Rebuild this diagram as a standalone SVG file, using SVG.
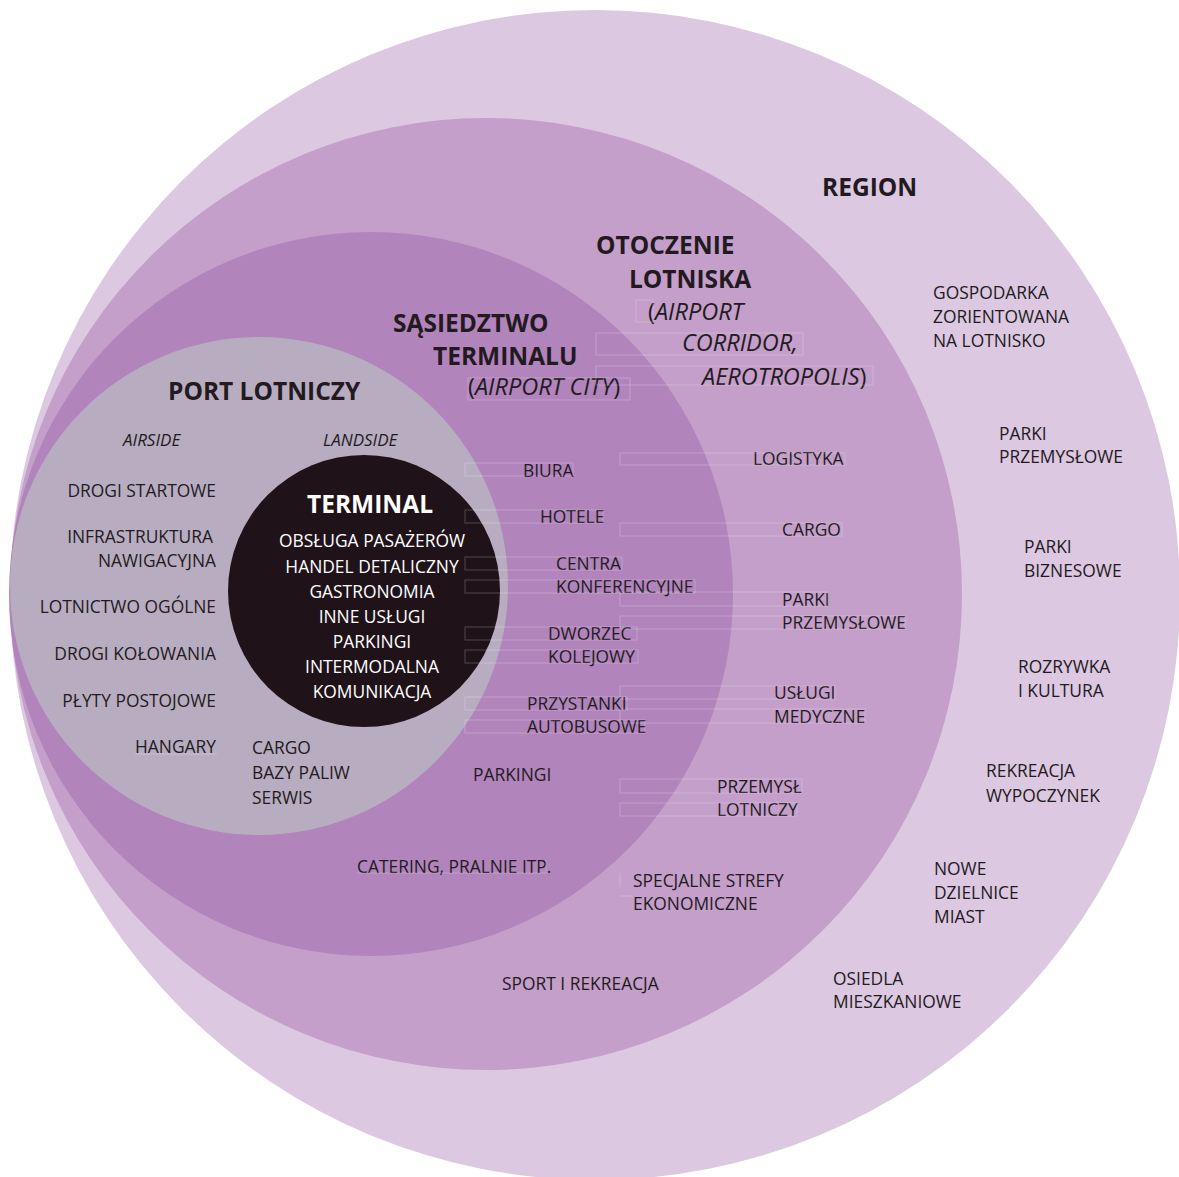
<svg xmlns="http://www.w3.org/2000/svg" width="1179" height="1177" viewBox="0 0 1179 1177">
<style>
.t{font-family:"Open Sans","Noto Sans","DejaVu Sans",sans-serif;font-size:17.4px;fill:#231a21}
.b{font-weight:700;font-size:24.5px}
.i{font-size:23.5px}
.it{font-style:italic}
.s{font-style:italic;font-size:17px}
.w{fill:#ffffff}
.m{text-anchor:middle}
.e{text-anchor:end}
.fr{fill:none;stroke:#ffffff;stroke-opacity:0.22;stroke-width:1}
</style>
<rect width="1179" height="1177" fill="#ffffff"/>
<g id="region">
<circle cx="595" cy="595" r="585" fill="#dcc8e1"/>
<text class="t b" x="822" y="196">REGION</text>
<text class="t" x="933" y="299">GOSPODARKA</text>
<text class="t" x="933" y="323">ZORIENTOWANA</text>
<text class="t" x="933" y="347">NA LOTNISKO</text>
<text class="t" x="999" y="440">PARKI</text>
<text class="t" x="999" y="463">PRZEMYSŁOWE</text>
<text class="t" x="1024" y="553">PARKI</text>
<text class="t" x="1024" y="577">BIZNESOWE</text>
<text class="t" x="1018" y="673">ROZRYWKA</text>
<text class="t" x="1018" y="697">I KULTURA</text>
<text class="t" x="986" y="777">REKREACJA</text>
<text class="t" x="986" y="802">WYPOCZYNEK</text>
<text class="t" x="934" y="875">NOWE</text>
<text class="t" x="934" y="899">DZIELNICE</text>
<text class="t" x="934" y="923">MIAST</text>
<text class="t" x="833" y="985">OSIEDLA</text>
<text class="t" x="833" y="1008">MIESZKANIOWE</text>
</g>
<g id="otoczenie">
<circle cx="486" cy="594" r="476" fill="#c49fc9"/>
<text class="t b" x="596" y="254">OTOCZENIE</text>
<text class="t b" x="629" y="288">LOTNISKA</text>
<text class="t i" x="648" y="320">(<tspan class="it">AIRPORT</tspan></text>
<text class="t i it" x="682" y="351">CORRIDOR,</text>
<text class="t i" x="702" y="385"><tspan class="it">AEROTROPOLIS</tspan>)</text>
<text class="t" x="753" y="465">LOGISTYKA</text>
<text class="t" x="782" y="536">CARGO</text>
<text class="t" x="782" y="606">PARKI</text>
<text class="t" x="782" y="629">PRZEMYSŁOWE</text>
<text class="t" x="774" y="699">USŁUGI</text>
<text class="t" x="774" y="723">MEDYCZNE</text>
<text class="t" x="717" y="793">PRZEMYSŁ</text>
<text class="t" x="717" y="816">LOTNICZY</text>
<text class="t" x="633" y="887">SPECJALNE STREFY</text>
<text class="t" x="633" y="910">EKONOMICZNE</text>
<text class="t" x="502" y="990">SPORT I REKREACJA</text>
</g>
<g id="sasiedztwo">
<circle cx="371" cy="594" r="362" fill="#b184bb"/>
<text class="t b" x="393" y="332">SĄSIEDZTWO</text>
<text class="t b" x="433" y="365">TERMINALU</text>
<text class="t i" x="468" y="395">(<tspan class="it">AIRPORT CITY</tspan>)</text>
<text class="t" x="523" y="477">BIURA</text>
<text class="t" x="540" y="523">HOTELE</text>
<text class="t" x="556" y="570">CENTRA</text>
<text class="t" x="556" y="593">KONFERENCYJNE</text>
<text class="t" x="548" y="640">DWORZEC</text>
<text class="t" x="548" y="663">KOLEJOWY</text>
<text class="t" x="527" y="710">PRZYSTANKI</text>
<text class="t" x="527" y="733">AUTOBUSOWE</text>
<text class="t" x="473" y="781">PARKINGI</text>
<text class="t" x="357" y="873">CATERING, PRALNIE ITP.</text>
</g>
<g id="port-lotniczy">
<circle cx="259" cy="586" r="249" fill="#b8adc0"/>
<text class="t b" x="168" y="400">PORT LOTNICZY</text>
<text class="t s" x="123" y="446">AIRSIDE</text>
<text class="t s" x="323" y="446">LANDSIDE</text>
<text class="t e" x="216" y="497">DROGI STARTOWE</text>
<text class="t e" x="213" y="543">INFRASTRUKTURA</text>
<text class="t e" x="216" y="567">NAWIGACYJNA</text>
<text class="t e" x="216" y="613">LOTNICTWO OGÓLNE</text>
<text class="t e" x="216" y="660">DROGI KOŁOWANIA</text>
<text class="t e" x="216" y="707">PŁYTY POSTOJOWE</text>
<text class="t e" x="216" y="753">HANGARY</text>
<text class="t" x="252" y="754">CARGO</text>
<text class="t" x="252" y="779">BAZY PALIW</text>
<text class="t" x="252" y="804">SERWIS</text>
</g>
<g id="terminal">
<circle cx="364" cy="591" r="136" fill="#1f1319"/>
<text class="t b w m" x="370" y="513">TERMINAL</text>
<text class="t w m" x="372" y="547">OBSŁUGA PASAŻERÓW</text>
<text class="t w m" x="372" y="573">HANDEL DETALICZNY</text>
<text class="t w m" x="372" y="598">GASTRONOMIA</text>
<text class="t w m" x="372" y="623">INNE USŁUGI</text>
<text class="t w m" x="372" y="648">PARKINGI</text>
<text class="t w m" x="372" y="673">INTERMODALNA</text>
<text class="t w m" x="372" y="698">KOMUNIKACJA</text>
</g>
<g id="connectors">
<rect class="fr" x="465" y="463" width="108" height="13"/>
<rect class="fr" x="465" y="510" width="138" height="13"/>
<rect class="fr" x="465" y="557" width="157" height="13"/>
<rect class="fr" x="465" y="580" width="230" height="13"/>
<rect class="fr" x="465" y="627" width="172" height="13"/>
<rect class="fr" x="465" y="650" width="173" height="13"/>
<rect class="fr" x="465" y="697" width="162" height="13"/>
<rect class="fr" x="465" y="720" width="180" height="13"/>
<rect class="fr" x="620" y="453" width="225" height="12"/>
<rect class="fr" x="620" y="523" width="222" height="13"/>
<rect class="fr" x="620" y="592" width="208" height="14"/>
<rect class="fr" x="620" y="616" width="285" height="13"/>
<rect class="fr" x="620" y="686" width="215" height="13"/>
<rect class="fr" x="620" y="709" width="245" height="14"/>
<rect class="fr" x="620" y="779" width="182" height="14"/>
<rect class="fr" x="620" y="803" width="177" height="13"/>
<path class="fr" d="M620,873V887M620,896H633"/>
<rect class="fr" x="636" y="300" width="17" height="22"/>
<rect class="fr" x="596" y="333" width="207" height="22"/>
<rect class="fr" x="596" y="366" width="277" height="19"/>
<rect class="fr" x="468" y="378" width="162" height="22"/>
<path class="fr" d="M357,873H546V860"/>
<path class="fr" d="M135,754H217"/>
</g>
</svg>
